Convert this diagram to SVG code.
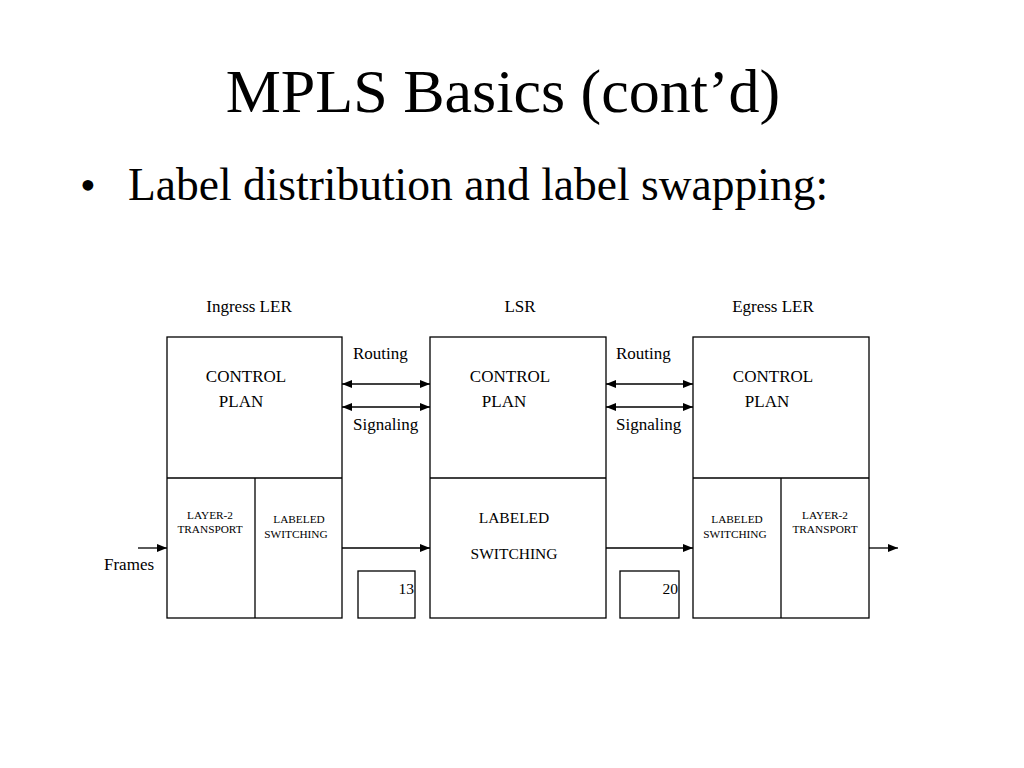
<svg xmlns="http://www.w3.org/2000/svg" width="1024" height="768" viewBox="0 0 1024 768">
<style>
text{font-family:"Liberation Serif","Times New Roman",serif;fill:#000}
.box{fill:#fff;stroke:#000;stroke-width:1.3}
.ln{stroke:#000;stroke-width:1.3;fill:none}
.s14{font-size:17px}
.s15{font-size:15.5px}
.s11{font-size:11.3px}
.m{text-anchor:middle}
</style>
<defs>
<marker id="ah" viewBox="0 0 10 10" refX="10" refY="5" markerWidth="10" markerHeight="10" markerUnits="userSpaceOnUse" orient="auto-start-reverse">
<path d="M0,1 L10,5 L0,9 Z" fill="#000"/>
</marker>
</defs>
<rect width="1024" height="768" fill="#fff"/>
<text x="503" y="112" class="m" font-size="62">MPLS Basics (cont’d)</text>
<text x="80" y="200" font-size="45">•</text>
<text x="128" y="200" font-size="45.5">Label distribution and label swapping:</text>

<g id="ingress">
<text x="249" y="312" class="s14 m">Ingress LER</text>
<rect x="167" y="337" width="175" height="281" class="box"/>
<line x1="167" y1="478" x2="342" y2="478" class="ln"/>
<line x1="255" y1="478" x2="255" y2="618" class="ln"/>
<text x="246" y="382" class="s14 m">CONTROL</text>
<text x="241" y="407" class="s14 m">PLAN</text>
<text x="210" y="519" class="s11 m">LAYER-2</text>
<text x="210" y="533" class="s11 m">TRANSPORT</text>
<text x="299" y="523" class="s11 m">LABELED</text>
<text x="296" y="538" class="s11 m">SWITCHING</text>
</g>
<g id="lsr">
<text x="520" y="312" class="s14 m">LSR</text>
<rect x="430" y="337" width="176" height="281" class="box"/>
<line x1="430" y1="478" x2="606" y2="478" class="ln"/>
<text x="510" y="382" class="s14 m">CONTROL</text>
<text x="504" y="407" class="s14 m">PLAN</text>
<text x="514" y="523" class="s15 m">LABELED</text>
<text x="514" y="559" class="s15 m">SWITCHING</text>
</g>
<g id="egress">
<text x="773" y="312" class="s14 m">Egress LER</text>
<rect x="693" y="337" width="176" height="281" class="box"/>
<line x1="693" y1="478" x2="869" y2="478" class="ln"/>
<line x1="781" y1="478" x2="781" y2="618" class="ln"/>
<text x="773" y="382" class="s14 m">CONTROL</text>
<text x="767" y="407" class="s14 m">PLAN</text>
<text x="737" y="523" class="s11 m">LABELED</text>
<text x="735" y="538" class="s11 m">SWITCHING</text>
<text x="825" y="519" class="s11 m">LAYER-2</text>
<text x="825" y="533" class="s11 m">TRANSPORT</text>
</g>
<g id="label13">
<rect x="358" y="571" width="57" height="47" class="box"/>
<text x="414" y="594" class="s15" text-anchor="end">13</text>
</g>
<g id="label20">
<rect x="620" y="571" width="59" height="47" class="box"/>
<text x="678" y="594" class="s15" text-anchor="end">20</text>
</g>
<g id="connectors">
<line x1="342" y1="384" x2="430" y2="384" class="ln" marker-start="url(#ah)" marker-end="url(#ah)"/>
<line x1="342" y1="407" x2="430" y2="407" class="ln" marker-start="url(#ah)" marker-end="url(#ah)"/>
<line x1="606" y1="384" x2="693" y2="384" class="ln" marker-start="url(#ah)" marker-end="url(#ah)"/>
<line x1="606" y1="407" x2="693" y2="407" class="ln" marker-start="url(#ah)" marker-end="url(#ah)"/>
<line x1="138" y1="548" x2="167" y2="548" class="ln" marker-end="url(#ah)"/>
<line x1="342" y1="548" x2="430" y2="548" class="ln" marker-end="url(#ah)"/>
<line x1="606" y1="548" x2="693" y2="548" class="ln" marker-end="url(#ah)"/>
<line x1="869" y1="548" x2="898" y2="548" class="ln" marker-end="url(#ah)"/>
</g>
<text x="353" y="359" class="s14">Routing</text>
<text x="353" y="430" class="s14">Signaling</text>
<text x="616" y="359" class="s14">Routing</text>
<text x="616" y="430" class="s14">Signaling</text>
<text x="104" y="570" class="s14">Frames</text>
</svg>
